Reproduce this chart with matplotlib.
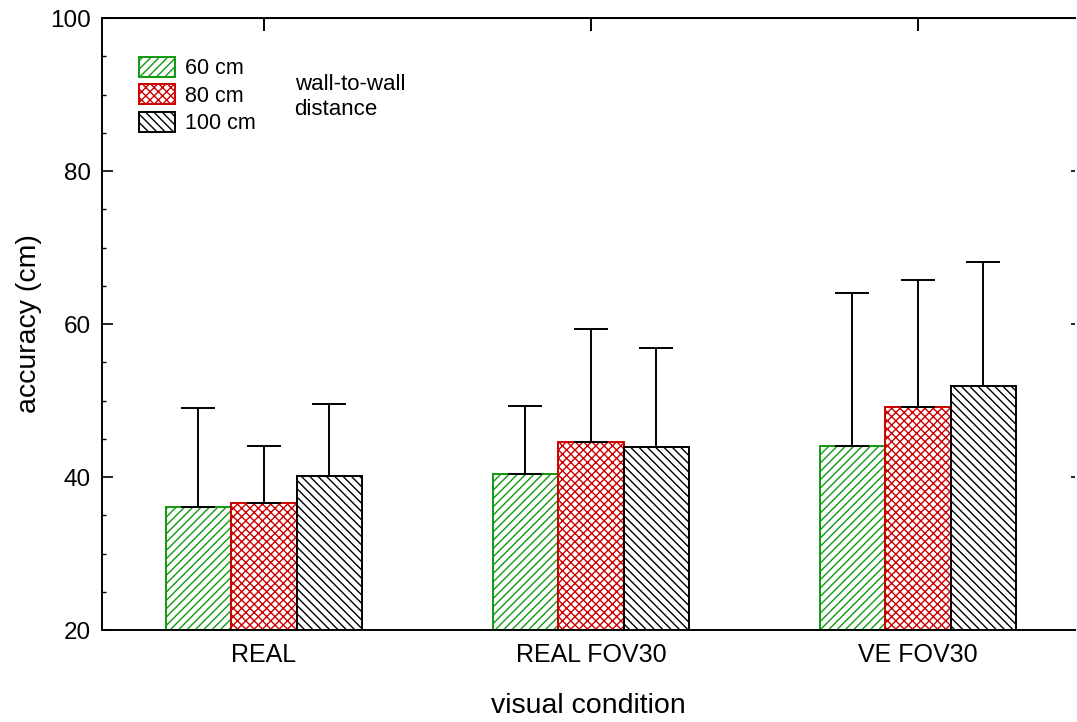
import numpy as np
import matplotlib
matplotlib.use("Agg")
import matplotlib.pyplot as plt

plt.rcParams['font.family'] = ['Liberation Sans', 'DejaVu Sans']
plt.rcParams['hatch.linewidth'] = 1.0

# Data
conditions = ["REAL", "REAL FOV30", "VE FOV30"]
labels = ["60 cm", "80 cm", "100 cm"]
mean_60 = [36.1, 40.4, 44.05]
mean_80 = [36.65, 44.6, 49.1]
mean_100 = [40.1, 43.9, 51.85]
sd_60 = [12.9, 8.9, 20.0]
sd_80 = [7.4, 14.8, 16.6]
sd_100 = [9.5, 13.0, 16.25]

colors = ["#119911", "#cc0000", "#000000"]
hatches = ["////", "xxxx", "\\\\\\\\"]

fig = plt.figure(figsize=(10.77, 7.22), dpi=100)
ax = fig.add_axes([0.0947, 0.1274, 0.9033, 0.8476])

x = np.arange(len(conditions))
width = 0.2
means = [mean_60, mean_80, mean_100]
sds = [sd_60, sd_80, sd_100]
for i in range(3):
    pos = x + (i - 1) * width
    ax.bar(pos, np.array(means[i]) - 20, width, bottom=20, color="white",
           edgecolor=colors[i], hatch=hatches[i], linewidth=1.4, label=labels[i], zorder=2)
    ax.errorbar(pos, means[i], yerr=[np.zeros(3), sds[i]], fmt="none", ecolor="black",
                elinewidth=1.4, capsize=12, capthick=1.4, zorder=3)

ax.set_xlim(-0.495, 2.48)
ax.set_ylim(20, 100)
ax.set_xticks(x)
ax.set_xticklabels(conditions, fontsize=18)
ax.set_yticks([20, 40, 60, 80, 100])
ax.set_yticks(np.arange(20, 101, 5), minor=True)
ax.tick_params(axis="y", which="major", direction="in", length=8, width=1.2, labelsize=17.5, pad=8)
ax.tick_params(axis="y", which="minor", direction="in", length=3, width=1.0)
ax.tick_params(axis="x", which="both", direction="in", length=4, width=1.0, pad=9)
ax.tick_params(axis="x", which="minor", bottom=False)

ax.spines["right"].set_visible(False)
for s in ["left", "top", "bottom"]:
    ax.spines[s].set_linewidth(1.4)

# top ticks
top = ax.secondary_xaxis("top")
top.set_xticks(x)
top.set_xticklabels([])
top.tick_params(direction="in", length=9, width=1.4)
# right ticks
right = ax.secondary_yaxis("right")
right.set_yticks([20, 40, 60, 80, 100])
right.set_yticklabels([])
right.tick_params(direction="in", length=3, width=1.2)
right.spines["right"].set_visible(False)

ax.set_ylabel("accuracy (cm)", fontsize=20.5, labelpad=6)
ax.set_xlabel("visual condition", fontsize=20.5, labelpad=19)

ax.legend(loc="upper left", bbox_to_anchor=(0.038, 0.937), frameon=False, fontsize=15.5,
          handlelength=1.67, handleheight=1.05, labelspacing=0.25, handletextpad=0.47,
          borderpad=0, borderaxespad=0)
ax.text(0.198, 0.908, "wall-to-wall\ndistance", transform=ax.transAxes, fontsize=16,
        va="top", ha="left", linespacing=1.2)

fig.savefig("out.png", dpi=100)
